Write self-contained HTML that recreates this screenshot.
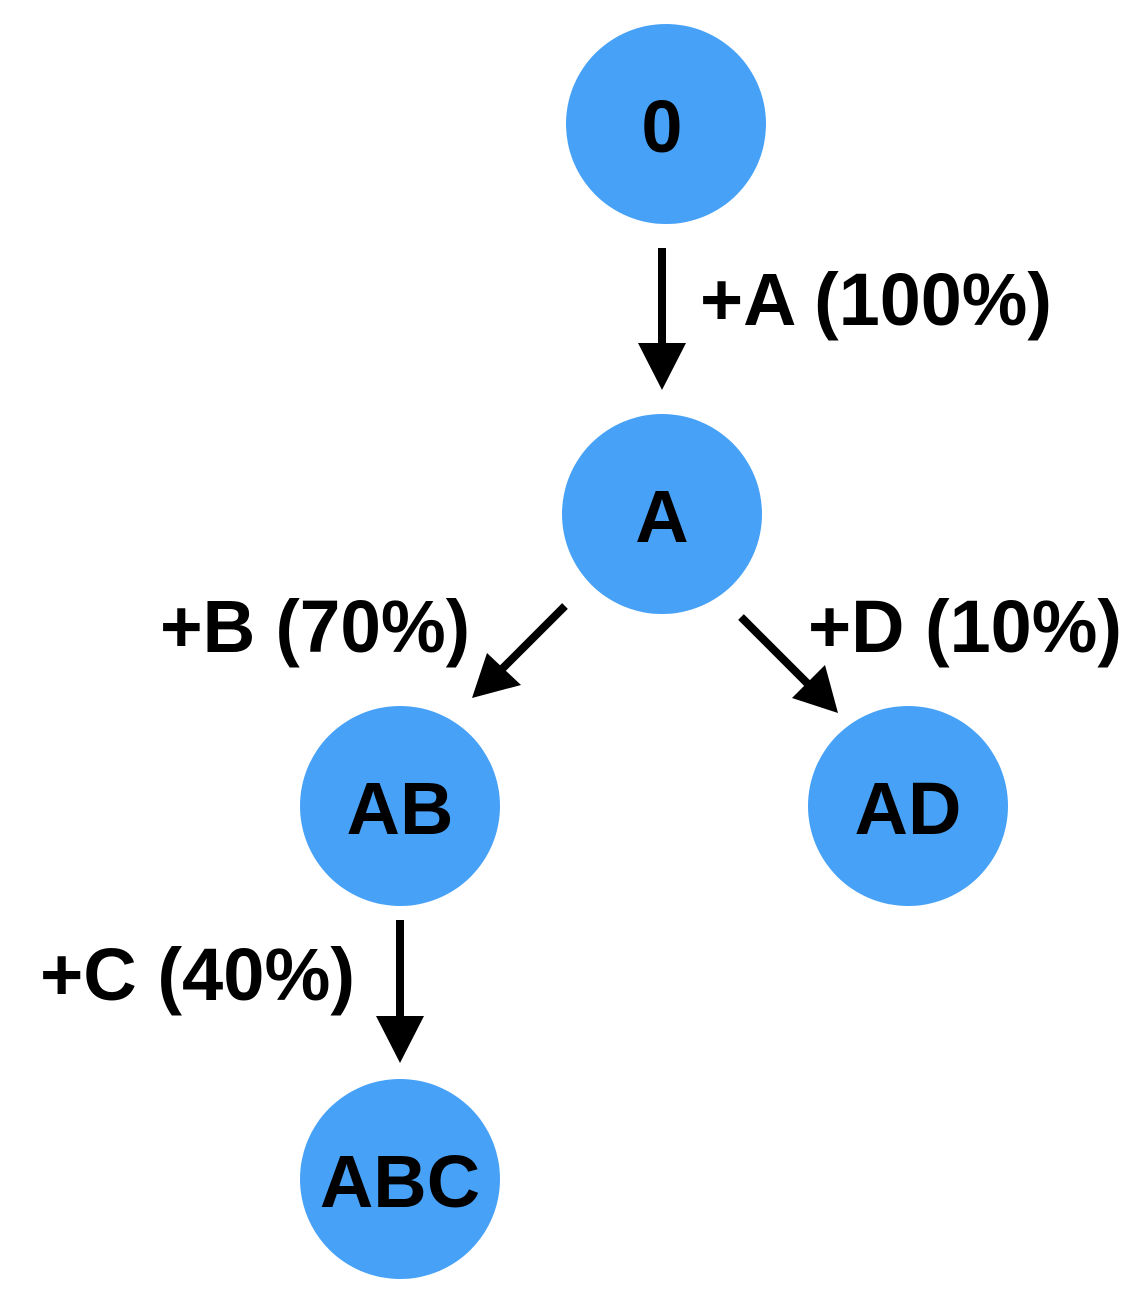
<!DOCTYPE html>
<html><head><style>html,body{margin:0;padding:0;background:#fff}svg{display:block}</style></head>
<body>
<svg width="1148" height="1316" viewBox="0 0 1148 1316" xmlns="http://www.w3.org/2000/svg" font-family="Liberation Sans, Arial, sans-serif" font-weight="bold">
<g fill="#47a1f7">
<circle cx="666" cy="124" r="100"/>
<circle cx="662" cy="514" r="100"/>
<circle cx="400" cy="806" r="100"/>
<circle cx="908" cy="806" r="100"/>
<circle cx="400" cy="1179" r="100"/>
</g>
<g font-size="74" text-anchor="middle" fill="#000">
<text x="662" y="152">0</text>
<text x="662" y="542">A</text>
<text x="400" y="834">AB</text>
<text x="908" y="834">AD</text>
<text x="400" y="1207">ABC</text>
</g>
<g stroke="#000" stroke-width="8">
<line x1="662" y1="248" x2="662" y2="350"/>
<line x1="400" y1="920" x2="400" y2="1020"/>
<line x1="565" y1="606" x2="500" y2="671"/>
<line x1="741" y1="617" x2="808" y2="684"/>
</g>
<g fill="#000">
<polygon points="638,343 686,343 662,390"/>
<polygon points="376,1016 424,1016 400,1063"/>
<polygon points="472,698 487,653 521,685"/>
<polygon points="838,713 792,698 825,665"/>
</g>
<g font-size="74" fill="#000">
<text x="700" y="325" textLength="352" lengthAdjust="spacingAndGlyphs">+A (100%)</text>
<text x="160" y="652" textLength="310" lengthAdjust="spacingAndGlyphs">+B (70%)</text>
<text x="808" y="652" textLength="314" lengthAdjust="spacingAndGlyphs">+D (10%)</text>
<text x="40" y="1000" textLength="315" lengthAdjust="spacingAndGlyphs">+C (40%)</text>
</g>
</svg>
</body></html>
